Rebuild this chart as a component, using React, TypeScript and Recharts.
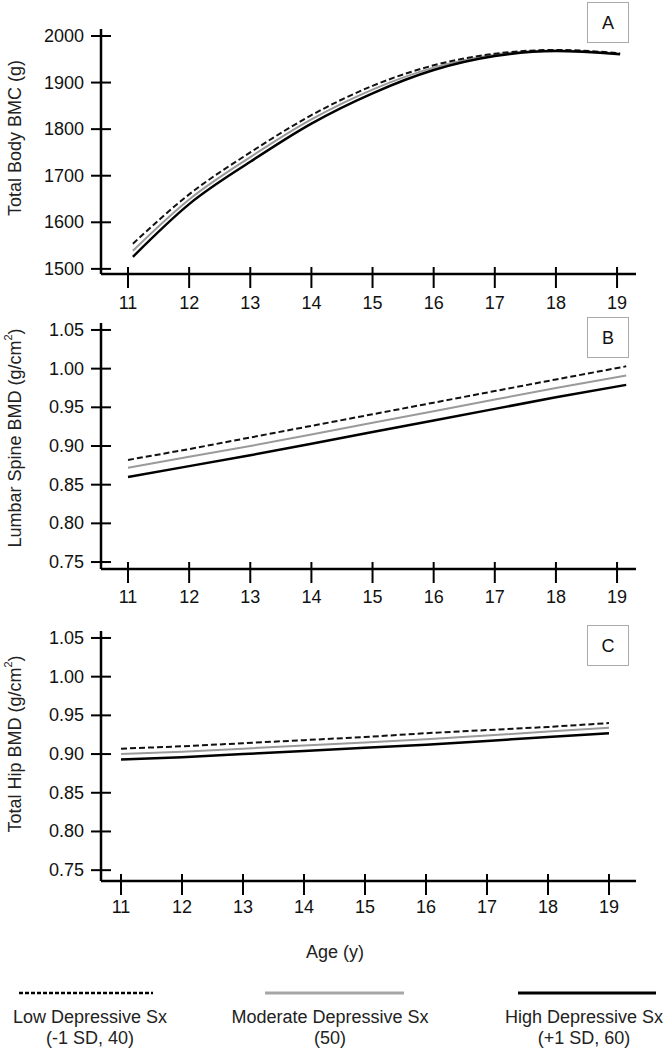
import React from "react";
import { LineChart, Line, XAxis, YAxis, Label } from "recharts";

const FONT = '"Liberation Sans", Arial, Helvetica, sans-serif';

// ages (x) and the three symptom groups per panel
const xTicks = [11, 12, 13, 14, 15, 16, 17, 18, 19];

const ageA = [11.08, 12, 13, 14, 15, 16, 17, 18, 19.05];
const lowA = [1554, 1660, 1750, 1830, 1893, 1937, 1962, 1970, 1963];
const modA = [1539, 1649, 1740, 1821, 1885, 1932, 1960, 1969, 1962];
const highA = [1526, 1639, 1730, 1812, 1877, 1927, 1957, 1968, 1961];

const ageB = [11, 12, 13, 14, 15, 16, 17, 18, 19.15];
const lowB = [0.882, 0.896, 0.911, 0.926, 0.941, 0.956, 0.971, 0.986, 1.003];
const modB = [0.872, 0.886, 0.9, 0.915, 0.93, 0.945, 0.96, 0.975, 0.991];
const highB = [0.86, 0.874, 0.888, 0.903, 0.918, 0.933, 0.948, 0.963, 0.979];

const ageC = [11, 12, 13, 14, 15, 16, 17, 18, 19];
const lowC = [0.907, 0.91, 0.914, 0.918, 0.922, 0.927, 0.931, 0.935, 0.94];
const modC = [0.9, 0.903, 0.907, 0.911, 0.915, 0.919, 0.924, 0.929, 0.934];
const highC = [0.893, 0.896, 0.9, 0.904, 0.908, 0.912, 0.917, 0.922, 0.927];

const ticksA = [1500, 1600, 1700, 1800, 1900, 2000];
const ticksBMD = [0.75, 0.8, 0.85, 0.9, 0.95, 1.0, 1.05];

const legendItems = [
  { line: "low", label: "Low Depressive Sx", sub: "(-1 SD, 40)" },
  { line: "mod", label: "Moderate Depressive Sx", sub: "(50)" },
  { line: "high", label: "High Depressive Sx", sub: "(+1 SD, 60)" },
];

function rows(age: number[], low: number[], mod: number[], high: number[]) {
  return age.map((a, i) => ({ age: a, low: low[i], mod: mod[i], high: high[i] }));
}

function makeYTick(fmt: (v: number) => string) {
  return (props: any) => {
    const { x, y, payload } = props;
    return (
      <g>
        <line x1={x - 10} x2={x + 10} y1={y} y2={y} stroke="#000" strokeWidth={2} />
        <text x={x - 17} y={y} textAnchor="end" dominantBaseline="central" fontSize={18} fontFamily={FONT} fill="#111">
          {fmt(payload.value)}
        </text>
      </g>
    );
  };
}

function makeXTick(labelDy: number) {
  return (props: any) => {
    const { x, y, payload } = props;
    return (
      <g>
        <line x1={x} x2={x} y1={y - 7} y2={y + 14} stroke="#000" strokeWidth={2} />
        <text x={x} y={y + labelDy} textAnchor="middle" dominantBaseline="central" fontSize={18} fontFamily={FONT} fill="#111">
          {payload.value}
        </text>
      </g>
    );
  };
}

function yTitle(text: string, sup: boolean, cy: number) {
  return () => (
    <text
      x={15}
      y={cy}
      transform={`rotate(-90, 15, ${cy})`}
      textAnchor="middle"
      dominantBaseline="central"
      fontSize={18}
      fontFamily={FONT}
      fill="#222"
    >
      {text}
      {sup && (
        <>
          <tspan dy={-7} fontSize={11}>2</tspan>
          <tspan dy={7}>)</tspan>
        </>
      )}
    </text>
  );
}

interface PanelProps {
  data: any[];
  top: number;
  height: number;
  marginTop: number;
  xAxisHeight: number;
  xDomain: [number, number];
  yDomain: [number, number];
  yTicks: number[];
  fmt: (v: number) => string;
  curve: "monotone" | "linear";
  title: () => React.ReactElement;
  labelDy: number;
  xTitle?: () => React.ReactElement;
}

function Panel(p: PanelProps) {
  return (
    <div style={{ position: "absolute", left: 0, top: p.top }}>
      <LineChart width={666} height={p.height} data={p.data} margin={{ top: p.marginTop, right: 30, bottom: 0, left: 0 }}>
        <XAxis
          dataKey="age"
          type="number"
          domain={p.xDomain}
          ticks={xTicks}
          allowDataOverflow
          height={p.xAxisHeight}
          tickLine={false}
          tickSize={0}
          tickMargin={0}
          axisLine={{ stroke: "#000", strokeWidth: 2.5 }}
          tick={makeXTick(p.labelDy)}
          interval={0}
        >
          {p.xTitle && <Label content={p.xTitle} />}
        </XAxis>
        <YAxis
          type="number"
          domain={p.yDomain}
          ticks={p.yTicks}
          allowDataOverflow
          width={101}
          tickLine={false}
          tickSize={0}
          tickMargin={0}
          axisLine={{ stroke: "#000", strokeWidth: 2.5 }}
          tick={makeYTick(p.fmt)}
          interval={0}
        >
          <Label content={p.title} />
        </YAxis>
        <Line type={p.curve} dataKey="mod" stroke="#9a9a9a" strokeWidth={2} dot={false} isAnimationActive={false} />
        <Line type={p.curve} dataKey="low" stroke="#111" strokeWidth={2} strokeDasharray="6 3" dot={false} isAnimationActive={false} />
        <Line type={p.curve} dataKey="high" stroke="#000" strokeWidth={2.5} dot={false} isAnimationActive={false} />
      </LineChart>
    </div>
  );
}

function LetterBox({ y, letter }: { y: number; letter: string }) {
  return (
    <g>
      <rect x={587.5} y={y + 0.5} width={41} height={40} fill="#fff" stroke="#aaa" strokeWidth={1} />
      <text x={608} y={y + 21} textAnchor="middle" dominantBaseline="central" fontSize={18} fontFamily={FONT} fill="#111">
        {letter}
      </text>
    </g>
  );
}

const legendX = [
  { x1: 19, x2: 153, cx: 90 },
  { x1: 265, x2: 404, cx: 330 },
  { x1: 518, x2: 656, cx: 584 },
];

export default function App() {
  const fmt2 = (v: number) => v.toFixed(2);
  const fmt0 = (v: number) => String(v);
  return (
    <div style={{ position: "absolute", left: 0, top: 0, width: 666, height: 1050, background: "#fff" }}>
      <Panel
        data={rows(ageA, lowA, modA, highA)}
        top={0}
        height={315}
        marginTop={29}
        xAxisHeight={41}
        xDomain={[10.558, 19.31]}
        yDomain={[1489, 2015]}
        yTicks={ticksA}
        fmt={fmt0}
        curve="monotone"
        title={yTitle("Total Body BMC (g)", false, 138)}
        labelDy={29}
      />
      <Panel
        data={rows(ageB, lowB, modB, highB)}
        top={310}
        height={310}
        marginTop={13}
        xAxisHeight={51}
        xDomain={[10.558, 19.31]}
        yDomain={[0.741, 1.059]}
        yTicks={ticksBMD}
        fmt={fmt2}
        curve="linear"
        title={yTitle("Lumbar Spine BMD (g/cm", true, 128)}
        labelDy={28}
      />
      <Panel
        data={rows(ageC, lowC, modC, highC)}
        top={620}
        height={350}
        marginTop={11}
        xAxisHeight={89}
        xDomain={[10.672, 19.443]}
        yDomain={[0.736, 1.059]}
        yTicks={ticksBMD}
        fmt={fmt2}
        curve="linear"
        title={yTitle("Total Hip BMD (g/cm", true, 124)}
        labelDy={26}
        xTitle={() => (
          <text x={335} y={332} textAnchor="middle" dominantBaseline="central" fontSize={18} fontFamily={FONT} fill="#222">
            Age (y)
          </text>
        )}
      />
      <svg width={666} height={1050} style={{ position: "absolute", left: 0, top: 0, pointerEvents: "none" }}>
        <LetterBox y={2} letter="A" />
        <LetterBox y={317} letter="B" />
        <LetterBox y={625} letter="C" />
        {legendItems.map((it, i) => {
          const g = legendX[i];
          const stroke = it.line === "mod" ? "#a6a6a6" : "#000";
          return (
            <g key={it.line}>
              <line
                x1={g.x1}
                x2={g.x2}
                y1={993}
                y2={993}
                stroke={stroke}
                strokeWidth={it.line === "low" ? 2.5 : 3}
                strokeDasharray={it.line === "low" ? "4 2" : undefined}
              />
              <text x={g.cx} y={1017} textAnchor="middle" dominantBaseline="central" fontSize={18} fontFamily={FONT} fill="#222">
                {it.label}
              </text>
              <text x={g.cx} y={1038} textAnchor="middle" dominantBaseline="central" fontSize={18} fontFamily={FONT} fill="#222">
                {it.sub}
              </text>
            </g>
          );
        })}
      </svg>
    </div>
  );
}
